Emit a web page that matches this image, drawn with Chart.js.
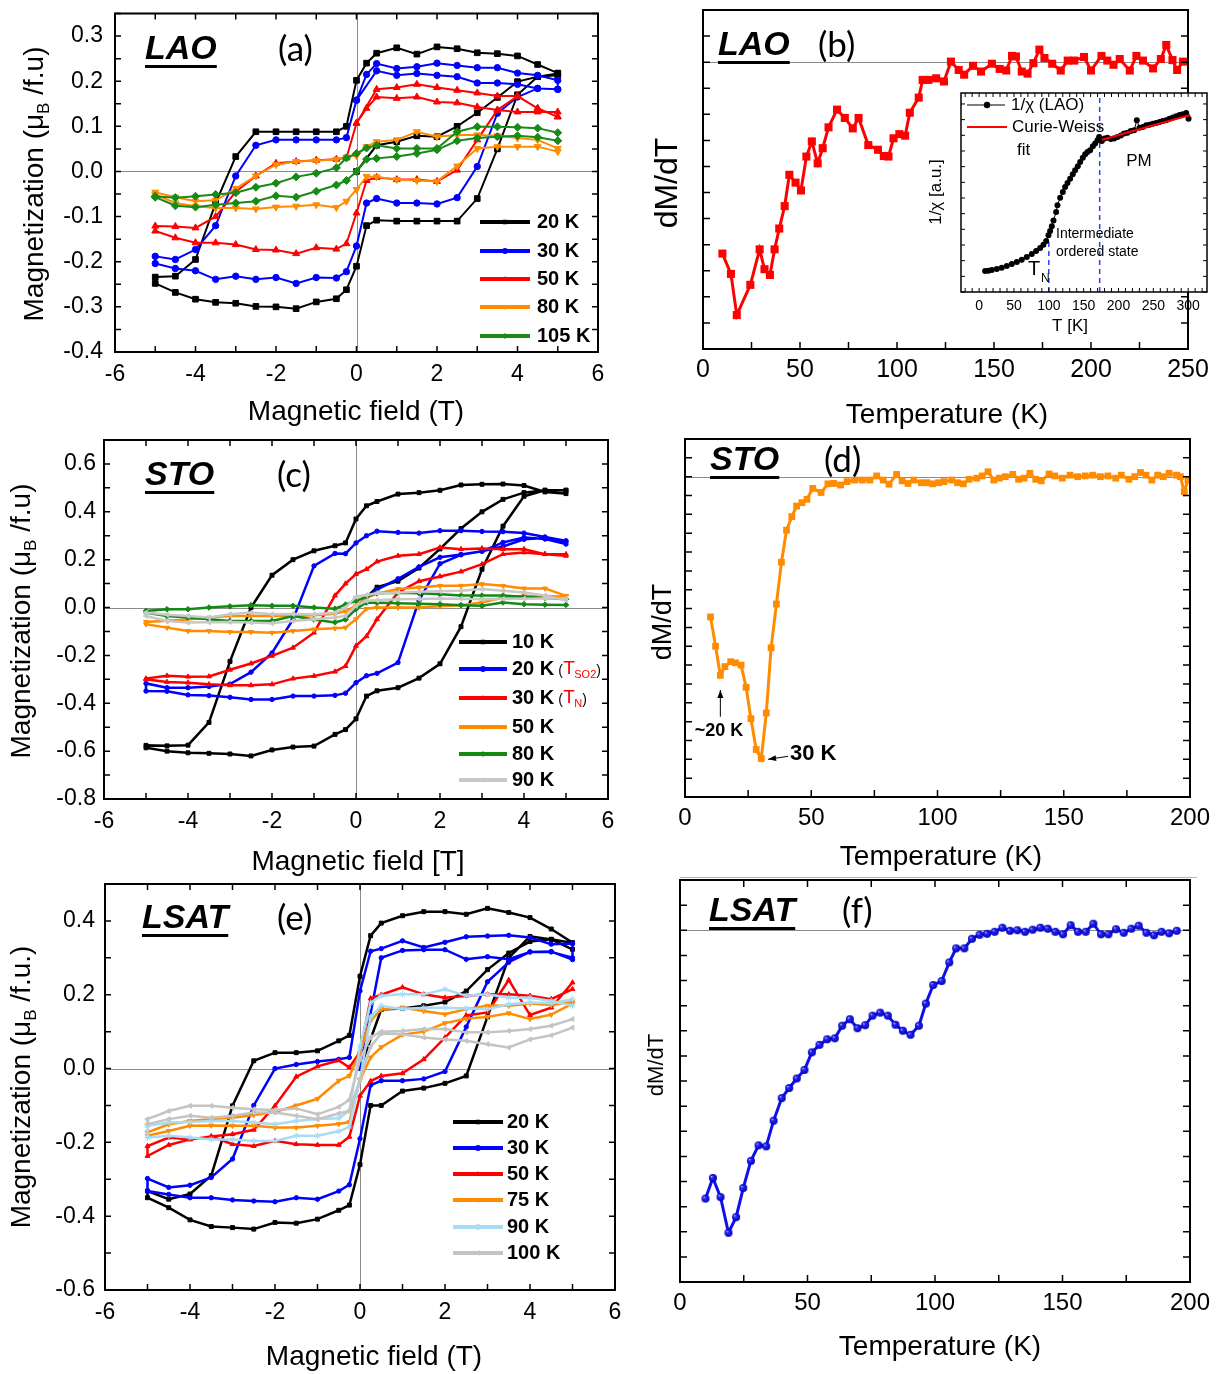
<!DOCTYPE html>
<html>
<head>
<meta charset="utf-8">
<title>Magnetization loops and dM/dT</title>
<script src="https://cdn.jsdelivr.net/npm/chart.js@4.4.1/dist/chart.umd.min.js"></script>
<style>
  body { margin: 0; background: #fff; }
  #page { position: relative; width: 1219px; height: 1374px; overflow: hidden; background: #fff; }
  #page canvas { position: absolute; }
  #rule { position: absolute; left: 680px; top: 877px; width: 517px; border-top: 1px solid #b4b4b4; }
</style>
</head>
<body>
<div id="page">
  <canvas id="lao-loops" width="610" height="430" style="left:0;top:0"></canvas>
  <canvas id="lao-deriv" width="609" height="430" style="left:610px;top:0"></canvas>
  <canvas id="lao-inset" width="319" height="270" style="left:900px;top:80px"></canvas>
  <canvas id="sto-loops" width="620" height="450" style="left:0;top:430px"></canvas>
  <canvas id="sto-deriv" width="599" height="450" style="left:620px;top:430px"></canvas>
  <div id="rule"></div>
  <canvas id="lsat-loops" width="630" height="504" style="left:0;top:870px"></canvas>
  <canvas id="lsat-deriv" width="599" height="504" style="left:620px;top:870px"></canvas>
</div>
<script>
/* =================================
  data
==================================== */
// field sweep (T) shared by all loops: down branch 5 -> -5, up branch is the reverse
const fieldDown = [5, 4.5, 4, 3.5, 3, 2.5, 2, 1.5, 1, 0.5, 0.25, 0, -0.25, -0.5, -1, -1.5, -2, -2.5, -3, -3.5, -4, -4.5, -5];
const fieldVirgin = [0, 0.5, 1, 1.5, 2, 2.5, 3, 3.5, 4, 4.5, 5];

// (a) LAO, magnetization in muB/f.u.
const laoTemps = ['20 K', '30 K', '50 K', '80 K', '105 K'];
const lao20Down = [0.218, 0.237, 0.256, 0.261, 0.263, 0.272, 0.276, 0.26, 0.274, 0.262, 0.24, 0.202, 0.1, 0.088, 0.088, 0.088, 0.088, 0.088, 0.033, -0.07, -0.195, -0.232, -0.234];
const lao20Up = [-0.248, -0.268, -0.283, -0.29, -0.292, -0.299, -0.3, -0.304, -0.289, -0.282, -0.262, -0.21, -0.12, -0.108, -0.11, -0.11, -0.11, -0.11, -0.06, 0.05, 0.17, 0.21, 0.213];
const lao20Virgin = [0, 0.058, 0.066, 0.079, 0.077, 0.1, 0.13, 0.164, 0.199, 0.21, 0.217];
const lao30Down = [0.202, 0.213, 0.218, 0.23, 0.23, 0.235, 0.24, 0.232, 0.228, 0.239, 0.215, 0.158, 0.075, 0.07, 0.07, 0.07, 0.07, 0.058, -0.01, -0.12, -0.173, -0.195, -0.188];
const lao30Up = [-0.204, -0.215, -0.22, -0.239, -0.232, -0.239, -0.235, -0.248, -0.235, -0.236, -0.222, -0.165, -0.07, -0.06, -0.07, -0.07, -0.072, -0.058, 0.011, 0.129, 0.165, 0.184, 0.182];
const lao30Virgin = [0.158, 0.223, 0.213, 0.217, 0.213, 0.21, 0.196, 0.196, 0.193, 0.184, 0.182];
const lao50Down = [0.132, 0.132, 0.132, 0.136, 0.143, 0.152, 0.154, 0.165, 0.162, 0.165, 0.14, 0.107, 0.03, 0.027, 0.025, 0.022, 0.018, -0.01, -0.045, -0.1, -0.125, -0.122, -0.121];
const lao50Up = [-0.132, -0.147, -0.158, -0.158, -0.162, -0.173, -0.174, -0.182, -0.169, -0.172, -0.16, -0.092, -0.02, -0.013, -0.018, -0.018, -0.022, 0.003, 0.07, 0.136, 0.167, 0.14, 0.121];
const lao50Virgin = [0.107, 0.182, 0.186, 0.193, 0.186, 0.18, 0.174, 0.167, 0.167, 0.14, 0.121];
const lao80Down = [0.051, 0.07, 0.074, 0.079, 0.081, 0.081, 0.077, 0.088, 0.07, 0.066, 0.055, 0.035, 0.032, 0.027, 0.024, 0.022, 0.015, -0.01, -0.038, -0.064, -0.066, -0.057, -0.046];
const lao80Up = [-0.051, -0.07, -0.077, -0.081, -0.081, -0.083, -0.079, -0.077, -0.074, -0.08, -0.066, -0.04, -0.011, -0.012, -0.018, -0.02, -0.022, 0.012, 0.051, 0.055, 0.055, 0.055, 0.044];
const lao105Down = [0.086, 0.096, 0.098, 0.099, 0.099, 0.088, 0.051, 0.051, 0.051, 0.058, 0.052, 0.04, 0.03, 0.008, -0.004, -0.012, -0.026, -0.035, -0.047, -0.051, -0.055, -0.058, -0.055];
const lao105Up = [-0.057, -0.076, -0.079, -0.074, -0.07, -0.066, -0.054, -0.057, -0.044, -0.03, -0.02, 0, 0.027, 0.029, 0.033, 0.04, 0.048, 0.068, 0.074, 0.077, 0.079, 0.076, 0.068];

// (b) LAO dM/dT (arb. units) and inset 1/chi
const tempB = [10, 14.4, 17.4, 24.4, 29.2, 31.7, 34.5, 36.9, 39.3, 42.1, 44.5, 47.7, 50.5, 53.3, 56.1, 59.1, 61.7, 64.7, 69.1, 73.1, 77.2, 80.2, 85.2, 90.2, 93.2, 95.6, 98.2, 101.2, 104.2, 106.6, 111.2, 113.2, 116.2, 120.2, 124.2, 127.8, 131.8, 134.6, 139.2, 143.3, 148.9, 152.9, 156.3, 159.3, 161.3, 164.3, 167.3, 170.3, 173.4, 176, 180, 184.4, 188, 191.4, 196.4, 200, 205.4, 208.4, 211.6, 214.8, 220, 223.4, 226.8, 232, 236, 238.8, 242, 244.4, 247.4];
const dmdtB = [-3.67, -4.06, -4.85, -4.27, -3.59, -3.97, -4.08, -3.59, -3.19, -2.76, -2.16, -2.31, -2.46, -1.81, -1.52, -1.94, -1.65, -1.25, -0.91, -1.07, -1.27, -1.07, -1.59, -1.68, -1.80, -1.81, -1.46, -1.38, -1.41, -0.97, -0.68, -0.34, -0.34, -0.31, -0.37, 0.01, -0.15, -0.24, -0.07, -0.18, -0.03, -0.13, -0.16, 0.12, 0.11, -0.18, -0.22, -0.02, 0.24, 0.08, -0.03, -0.16, 0.03, 0.03, 0.1, -0.16, 0.12, 0.03, -0.05, 0.06, -0.16, 0.12, 0.03, -0.12, 0.06, 0.33, 0.04, -0.15, 0.01];
const tempInset = [8.6, 13.4, 18.2, 25.4, 32.5, 39.7, 46.9, 54.1, 61.2, 68.4, 75.6, 81.8, 87.6, 92.3, 96.2, 99.5, 101.9, 104.3, 106.7, 110.5, 112.4, 116.3, 120.1, 123.4, 126.8, 130.6, 134.4, 137.8, 141.6, 145.0, 148.8, 152.2, 155.5, 159.3, 163.2, 166.5, 169.9, 172.2, 176.1, 179.9, 184.2, 189.0, 193.8, 198.6, 203.3, 208.1, 212.9, 217.7, 222.5, 226.3, 230.1, 234.9, 239.7, 244.5, 249.3, 254.1, 258.9, 263.6, 268.4, 273.2, 278.0, 282.8, 287.6, 292.3, 297.1, 300.5];
const invChi = [1.34, 1.36, 1.40, 1.47, 1.55, 1.66, 1.79, 1.91, 2.06, 2.23, 2.43, 2.62, 2.81, 3.02, 3.26, 3.62, 3.89, 4.19, 4.57, 5.11, 5.53, 6.02, 6.38, 6.70, 6.96, 7.23, 7.51, 7.77, 8.02, 8.30, 8.57, 8.79, 8.94, 9.04, 9.30, 9.47, 9.68, 9.89, 9.64, 9.79, 9.85, 9.77, 9.79, 9.89, 9.98, 10.11, 10.17, 10.28, 10.32, 10.96, 10.49, 10.53, 10.64, 10.68, 10.74, 10.79, 10.85, 10.91, 10.96, 11.06, 11.13, 11.21, 11.30, 11.34, 11.43, 11.06];
const fitT = [176, 303];
const fitChi = [9.72, 11.3];
const tnT = [100, 100];
const tnChi = [0, 3.5];
const tpT = [173, 173];
const tpChi = [0, 12.7];

// (c) STO
const stoTemps = ['10 K', '20 K', '30 K', '50 K', '80 K', '90 K'];
const sto10Down = [0.476, 0.483, 0.51, 0.516, 0.515, 0.512, 0.49, 0.48, 0.474, 0.443, 0.425, 0.37, 0.27, 0.258, 0.237, 0.2, 0.135, 0, -0.225, -0.48, -0.575, -0.578, -0.576];
const sto10Up = [-0.586, -0.6, -0.607, -0.609, -0.612, -0.62, -0.595, -0.583, -0.579, -0.53, -0.51, -0.465, -0.37, -0.348, -0.335, -0.295, -0.235, -0.08, 0.16, 0.34, 0.465, 0.49, 0.49];
const sto10Virgin = [0, 0.085, 0.11, 0.165, 0.245, 0.33, 0.4, 0.452, 0.48, 0.49, 0.49];
const sto20Down = [0.279, 0.295, 0.311, 0.317, 0.318, 0.321, 0.321, 0.311, 0.314, 0.319, 0.3, 0.27, 0.225, 0.226, 0.174, -0.05, -0.19, -0.27, -0.32, -0.33, -0.335, -0.335, -0.317];
const sto20Up = [-0.349, -0.35, -0.365, -0.368, -0.375, -0.384, -0.384, -0.37, -0.37, -0.367, -0.358, -0.314, -0.285, -0.275, -0.23, 0.03, 0.183, 0.22, 0.235, 0.272, 0.293, 0.286, 0.265];
const sto20Virgin = [0, 0.075, 0.12, 0.17, 0.21, 0.222, 0.235, 0.255, 0.285, 0.29, 0.275];
const sto30Down = [0.216, 0.223, 0.244, 0.244, 0.247, 0.244, 0.251, 0.223, 0.216, 0.192, 0.16, 0.14, 0.1, 0.05, -0.105, -0.168, -0.202, -0.234, -0.26, -0.288, -0.289, -0.285, -0.297];
const sto30Up = [-0.3, -0.311, -0.314, -0.321, -0.325, -0.325, -0.321, -0.297, -0.286, -0.268, -0.245, -0.16, -0.12, -0.049, 0.063, 0.11, 0.13, 0.15, 0.181, 0.223, 0.23, 0.223, 0.223];
const sto50Down = [0.049, 0.08, 0.08, 0.091, 0.098, 0.091, 0.091, 0.084, 0.077, 0.058, 0.04, 0.007, -0.015, -0.026, -0.032, -0.035, -0.034, -0.035, -0.035, -0.042, -0.05, -0.055, -0.06];
const sto50Up = [-0.07, -0.084, -0.098, -0.098, -0.102, -0.102, -0.105, -0.098, -0.091, -0.087, -0.084, -0.049, -0.005, 0, 0, 0, 0.005, 0.01, 0.021, 0.042, 0.048, 0.048, 0.045];
const sto80Down = [0.035, 0.04, 0.045, 0.05, 0.05, 0.05, 0.055, 0.06, 0.062, 0.06, 0.045, 0.028, 0.012, -0.005, 0, 0.007, 0.007, 0.01, 0.005, 0, -0.007, -0.007, -0.014];
const sto80Up = [-0.021, -0.035, -0.042, -0.049, -0.056, -0.056, -0.056, -0.035, -0.05, -0.062, -0.05, -0.007, 0.021, 0.02, 0.018, 0.016, 0.014, 0.01, 0.007, 0.021, 0.014, 0.012, 0.011];
const sto90Down = [0.03, 0.05, 0.063, 0.07, 0.077, 0.07, 0.068, 0.066, 0.063, 0.06, 0.052, 0.045, 0, -0.022, -0.028, -0.027, -0.028, -0.021, -0.028, -0.042, -0.035, -0.03, -0.021];
const sto90Up = [-0.035, -0.056, -0.063, -0.062, -0.06, -0.063, -0.066, -0.056, -0.049, -0.042, -0.035, 0.007, 0.028, 0.03, 0.035, 0.036, 0.038, 0.037, 0.035, 0.036, 0.037, 0.038, 0.038];

// (d) STO dM/dT
const tempD = [10.1, 12.1, 14, 15.8, 18.1, 20, 22.2, 24.2, 26.1, 28.2, 30.2, 32.2, 34.1, 36.2, 38.2, 40.2, 42.3, 44.2, 46.3, 48.3, 50.6, 53.9, 56.6, 58.9, 61.6, 64.2, 67.2, 70.2, 73.2, 75.9, 78.5, 80.8, 83.8, 86, 88.3, 90.6, 93.6, 95.8, 98.1, 100.4, 102.6, 105.7, 107.9, 110.2, 112.5, 115.5, 117.7, 120, 122.3, 124.5, 126.8, 129.8, 132.1, 134.3, 136.6, 138.9, 141.1, 144.2, 146.4, 149.4, 152.5, 155.5, 158.5, 161.5, 164.5, 167.5, 170.6, 172.8, 175.8, 178.1, 180.4, 182.6, 184.9, 187.2, 189.4, 191.7, 194.7, 196.2, 197.7, 199.2];
const dmdtD = [-3.72, -4.5, -5.27, -5.04, -4.91, -4.94, -5.0, -5.59, -6.42, -7.24, -7.48, -6.27, -4.54, -3.38, -2.27, -1.42, -1.06, -0.78, -0.69, -0.6, -0.31, -0.42, -0.19, -0.18, -0.22, -0.13, -0.09, -0.09, -0.09, 0.02, -0.09, -0.2, 0.06, -0.11, -0.18, -0.09, -0.16, -0.16, -0.19, -0.16, -0.13, -0.09, -0.16, -0.19, -0.07, -0.04, 0.02, 0.13, -0.09, -0.04, 0, 0.06, -0.07, -0.04, 0.09, -0.07, -0.11, 0.07, 0.02, -0.04, 0.04, 0, 0.02, 0.04, 0, 0.02, -0.04, 0.04, -0.07, 0, 0.11, 0.04, -0.09, 0.04, 0, 0.09, 0.04, 0, -0.4, -0.09];
const note20 = [13.5, -6.76];
const arrow20 = [[14, -6.37], [14, -5.66]];
const note30 = [41.6, -7.37];
const arrow30 = [[40.8, -7.42], [32.9, -7.5]];

// (e) LSAT
const lsatTemps = ['20 K', '30 K', '50 K', '75 K', '90 K', '100 K'];
const lsat20Down = [0.341, 0.378, 0.409, 0.423, 0.434, 0.418, 0.425, 0.425, 0.414, 0.394, 0.36, 0.25, 0.09, 0.075, 0.048, 0.043, 0.043, 0.021, -0.101, -0.29, -0.34, -0.354, -0.332];
const lsat20Up = [-0.35, -0.377, -0.41, -0.428, -0.431, -0.435, -0.417, -0.419, -0.408, -0.384, -0.37, -0.26, -0.1, -0.1, -0.061, -0.053, -0.04, -0.02, 0.14, 0.3, 0.358, 0.35, 0.323];
const lsat20Virgin = [0, 0.16, 0.163, 0.17, 0.18, 0.21, 0.268, 0.313, 0.344, 0.35, 0.34];
const lsat30Down = [0.339, 0.337, 0.355, 0.361, 0.359, 0.357, 0.342, 0.328, 0.346, 0.325, 0.318, 0.21, 0.03, 0.025, 0.019, 0.011, 0, -0.1, -0.245, -0.295, -0.316, -0.322, -0.298];
const lsat30Up = [-0.332, -0.341, -0.35, -0.35, -0.356, -0.359, -0.361, -0.35, -0.354, -0.332, -0.315, -0.19, -0.045, -0.033, -0.033, -0.028, -0.008, 0.113, 0.235, 0.288, 0.316, 0.317, 0.295];
const lsat30Virgin = [0, 0.3, 0.32, 0.322, 0.322, 0.296, 0.303, 0.296, 0.316, 0.316, 0.3];
const lsat50Down = [0.215, 0.188, 0.197, 0.201, 0.201, 0.197, 0.192, 0.201, 0.22, 0.2, 0.19, 0.045, 0.003, 0.022, 0.006, -0.022, -0.101, -0.166, -0.178, -0.184, -0.192, -0.207, -0.237];
const lsat50Up = [-0.21, -0.187, -0.192, -0.184, -0.205, -0.21, -0.196, -0.205, -0.207, -0.207, -0.185, -0.074, -0.034, -0.02, -0.013, 0.025, 0.084, 0.144, 0.152, 0.24, 0.145, 0.165, 0.233];
const lsat75Down = [0.18, 0.172, 0.176, 0.17, 0.17, 0.161, 0.147, 0.156, 0.165, 0.16, 0.13, 0.043, -0.02, -0.033, -0.082, -0.1, -0.118, -0.126, -0.133, -0.137, -0.142, -0.151, -0.173];
const lsat75Up = [-0.182, -0.169, -0.155, -0.154, -0.155, -0.155, -0.16, -0.16, -0.155, -0.15, -0.145, -0.03, 0.03, 0.058, 0.092, 0.1, 0.123, 0.135, 0.14, 0.15, 0.134, 0.146, 0.176];
const lsat90Down = [0.17, 0.183, 0.192, 0.192, 0.201, 0.197, 0.215, 0.201, 0.201, 0.197, 0.178, 0.06, -0.115, -0.135, -0.137, -0.142, -0.151, -0.146, -0.142, -0.142, -0.145, -0.146, -0.155];
const lsat90Up = [-0.187, -0.182, -0.187, -0.192, -0.192, -0.196, -0.196, -0.182, -0.182, -0.17, -0.158, -0.03, 0.14, 0.17, 0.161, 0.165, 0.165, 0.163, 0.161, 0.174, 0.179, 0.177, 0.188];
const lsat100Down = [0.134, 0.116, 0.107, 0.102, 0.098, 0.098, 0.107, 0.107, 0.102, 0.1, 0.085, 0.025, -0.085, -0.104, -0.124, -0.108, -0.112, -0.11, -0.106, -0.101, -0.101, -0.115, -0.137];
const lsat100Up = [-0.151, -0.137, -0.128, -0.133, -0.128, -0.119, -0.119, -0.128, -0.137, -0.122, -0.115, -0.03, 0.06, 0.095, 0.093, 0.084, 0.079, 0.075, 0.066, 0.057, 0.079, 0.09, 0.111];

// (f) LSAT dM/dT
const tempF = [10, 12.9, 15.9, 19, 22, 24.8, 27.8, 30.8, 33.8, 36.7, 39.9, 42.8, 45.8, 48.8, 51.7, 54.7, 57.7, 60.7, 63.6, 66.6, 69.6, 72.6, 75.5, 78.5, 81.5, 84.5, 87.4, 90.4, 93.7, 96.4, 99.3, 102.6, 105.6, 108.3, 111.5, 114.5, 117.5, 120.4, 123.4, 126.4, 129.4, 132.3, 135.3, 138.3, 141.3, 144.2, 147.2, 150.2, 153.2, 156.1, 159.1, 162.1, 165.1, 168, 171, 174, 177, 179.9, 182.9, 185.9, 188.8, 191.8, 194.8];
const dmdtF = [-5.34, -4.93, -5.31, -6.02, -5.71, -5.13, -4.59, -4.28, -4.3, -3.79, -3.34, -3.14, -2.95, -2.78, -2.43, -2.28, -2.17, -2.15, -1.9, -1.77, -1.95, -1.89, -1.7, -1.64, -1.7, -1.88, -2.0, -2.08, -1.9, -1.46, -1.09, -1.01, -0.64, -0.36, -0.36, -0.17, -0.09, -0.07, -0.03, 0.05, -0.01, 0, -0.03, 0.01, 0.05, 0.03, -0.03, -0.08, 0.1, -0.03, -0.03, 0.13, -0.08, -0.08, 0.02, -0.05, 0.03, 0.09, -0.05, -0.1, -0.03, -0.06, -0.01];

// tick labels
const tickField = [-6, -4, -2, 0, 2, 4, 6];
const tickMagA = [-0.4, -0.3, -0.2, -0.1, 0, 0.1, 0.2, 0.3];
const tickMagC = [-0.8, -0.6, -0.4, -0.2, 0, 0.2, 0.4, 0.6];
const tickMagE = [-0.6, -0.4, -0.2, 0, 0.2, 0.4];
const tickTempB = [0, 50, 100, 150, 200, 250];
const tickTempDF = [0, 50, 100, 150, 200];
const tickTempInset = [0, 50, 100, 150, 200, 250, 300];
const tickNone = [0];

/* =================================
  helpers
==================================== */
const FF = '"Liberation Sans", Arial, Helvetica, sans-serif';
const font = (size, style) => (style ? style + ' ' : '') + size + 'px ' + FF;
const fieldUp = fieldDown.slice().reverse();

function loop(down, up, virgin) {
    const pts = [];
    if (virgin) fieldVirgin.forEach((b, i) => pts.push({ x: b, y: virgin[i] }));
    fieldDown.forEach((b, i) => pts.push({ x: b, y: down[i] }));
    fieldUp.forEach((b, i) => pts.push({ x: b, y: up[i] }));
    return pts;
}

function pairs(xs, ys) {
    return xs.map((x, i) => ({ x: x, y: ys[i] }));
}

function multiples(min, max, step) {
    const out = [];
    for (let k = Math.ceil(min / step - 1e-6); k <= Math.floor(max / step + 1e-6); k++) out.push(k * step);
    return out;
}

function text(ctx, s, x, y, f, align, color) {
    ctx.font = f;
    ctx.fillStyle = color || '#000';
    ctx.textAlign = align || 'left';
    ctx.textBaseline = 'middle';
    ctx.fillText(s, x, y);
}

// parts: [string, font, color, dy]; centred on x,y, optionally rotated
function rich(ctx, parts, x, y, rot) {
    ctx.save();
    ctx.translate(x, y);
    if (rot) ctx.rotate(rot);
    ctx.textAlign = 'left';
    ctx.textBaseline = 'middle';
    let w = 0;
    parts.forEach(p => { ctx.font = p[1]; w += ctx.measureText(p[0]).width; });
    let cx = -w / 2;
    parts.forEach(p => {
        ctx.font = p[1];
        ctx.fillStyle = p[2] || '#000';
        ctx.fillText(p[0], cx, p[3] || 0);
        cx += ctx.measureText(p[0]).width;
    });
    ctx.restore();
}

function magTitle(ctx, x, y, tail) {
    rich(ctx, [['Magnetization (\u03bc', font(28)], ['B', font(17), '#000', 9], [tail, font(28)]], x, y, -Math.PI / 2);
}

function panelTag(ctx, name, x, y, label, lx) {
    text(ctx, name, x, y, font(34, 'italic bold'));
    const w = ctx.measureText(name).width;
    ctx.fillRect(x, y + 15, w, 3);
    text(ctx, label, lx, y, '35px Lato, "Open Sans", sans-serif');
}

function marker(ctx, style, x, y, r, color, rot) {
    ctx.save();
    ctx.translate(x, y);
    ctx.rotate((rot || 0) * Math.PI / 180);
    ctx.fillStyle = color;
    ctx.strokeStyle = color;
    ctx.lineWidth = 1.5;
    ctx.beginPath();
    if (style === 'rect') ctx.rect(-r * 0.75, -r * 0.75, r * 1.5, r * 1.5);
    else if (style === 'circle') ctx.arc(0, 0, r, 0, Math.PI * 2);
    else if (style === 'triangle') { ctx.moveTo(0, -r); ctx.lineTo(r * 0.9, r * 0.6); ctx.lineTo(-r * 0.9, r * 0.6); ctx.closePath(); }
    else if (style === 'rectRot') { ctx.moveTo(0, -r); ctx.lineTo(r, 0); ctx.lineTo(0, r); ctx.lineTo(-r, 0); ctx.closePath(); }
    else {
        for (let k = 0; k < 4; k++) {
            const a = k * Math.PI / 4;
            ctx.moveTo(-r * Math.cos(a), -r * Math.sin(a));
            ctx.lineTo(r * Math.cos(a), r * Math.sin(a));
        }
    }
    if (style === 'star') ctx.stroke(); else ctx.fill();
    ctx.restore();
}

function loopLegend(ctx, chart, x1, x2, tx, rows) {
    chart.data.datasets.forEach((d, i) => {
        const y = rows[i];
        ctx.strokeStyle = d.borderColor;
        ctx.lineWidth = 4;
        ctx.beginPath();
        ctx.moveTo(x1, y);
        ctx.lineTo(x2, y);
        ctx.stroke();
        marker(ctx, d.pointStyle, (x1 + x2) / 2, y, 3, d.borderColor, d.pointRotation);
        text(ctx, d.label, tx, y, font(20, 'bold'));
    });
}

function arrow(ctx, x0, y0, x1, y1) {
    const a = Math.atan2(y1 - y0, x1 - x0), L = 8, W = 3;
    ctx.strokeStyle = '#000';
    ctx.fillStyle = '#000';
    ctx.lineWidth = 1;
    ctx.beginPath();
    ctx.moveTo(x0, y0);
    ctx.lineTo(x1, y1);
    ctx.stroke();
    ctx.beginPath();
    ctx.moveTo(x1, y1);
    ctx.lineTo(x1 - L * Math.cos(a) + W * Math.sin(a), y1 - L * Math.sin(a) - W * Math.cos(a));
    ctx.lineTo(x1 - L * Math.cos(a) - W * Math.sin(a), y1 - L * Math.sin(a) + W * Math.cos(a));
    ctx.closePath();
    ctx.fill();
}

// shaded ball used as the (f) marker
function sphere(r) {
    const c = document.createElement('canvas');
    c.width = c.height = 2 * r + 2;
    const g = c.getContext('2d');
    const m = r + 1;
    const grad = g.createRadialGradient(m - r * 0.4, m - r * 0.4, 0, m, m, r);
    grad.addColorStop(0, '#c8c8ff');
    grad.addColorStop(0.3, '#2a2aff');
    grad.addColorStop(1, '#0000b4');
    g.fillStyle = grad;
    g.beginPath();
    g.arc(m, m, r, 0, Math.PI * 2);
    g.fill();
    return c;
}

// axis whose box size is fixed so the plot area lands where it should
function axis(min, max, list, o) {
    return {
        type: 'linear', min: min, max: max,
        grid: { display: false, drawTicks: false },
        border: { display: false },
        ticks: {
            display: o.labels !== false, autoSkip: false, maxRotation: 0, minRotation: 0,
            color: '#000', padding: o.pad || 0, font: { family: FF, size: o.size || 12 },
            callback: o.fmt || (v => String(v))
        },
        afterBuildTicks: s => { s.ticks = list.map(v => ({ value: v })); },
        afterFit: s => {
            s.paddingLeft = s.paddingRight = s.paddingTop = s.paddingBottom = 0;
            if (s.isHorizontal()) s.height = o.fit; else s.width = o.fit;
        }
    };
}

function base(box) {
    return {
        responsive: false, animation: false, events: [],
        layout: { padding: { left: 0, top: box.top, right: box.w - box.right, bottom: 0 } },
        plugins: { legend: { display: false }, tooltip: { enabled: false } }
    };
}

// frame, inward ticks, zero lines and page text
function deco(o) {
    return {
        id: 'deco',
        beforeDraw(chart) {
            if (!o.fill) return;
            const a = chart.chartArea;
            chart.ctx.save();
            chart.ctx.fillStyle = '#fff';
            chart.ctx.fillRect(a.left, a.top, a.right - a.left, a.bottom - a.top);
            chart.ctx.restore();
        },
        beforeDatasetsDraw(chart) {
            const { ctx, chartArea: a, scales: { x, y } } = chart;
            ctx.save();
            ctx.strokeStyle = '#8c8c8c';
            ctx.lineWidth = 1;
            ctx.beginPath();
            if (o.zeroX) {
                const px = Math.round(x.getPixelForValue(0)) + 0.5;
                ctx.moveTo(px, a.top); ctx.lineTo(px, a.bottom);
            }
            if (o.zeroY) {
                const py = Math.round(y.getPixelForValue(0)) + 0.5;
                ctx.moveTo(a.left, py); ctx.lineTo(a.right, py);
            }
            ctx.stroke();
            ctx.restore();
        },
        afterDatasetsDraw(chart) {
            const { ctx, chartArea: a, scales: { x, y } } = chart;
            const t = o.ticks;
            ctx.save();
            ctx.strokeStyle = '#000';
            ctx.lineWidth = t.w || 1.5;
            ctx.beginPath();
            multiples(x.min, x.max, t.x).forEach(v => {
                const px = x.getPixelForValue(v);
                ctx.moveTo(px, a.bottom); ctx.lineTo(px, a.bottom - t.len);
                if (t.top) { ctx.moveTo(px, a.top); ctx.lineTo(px, a.top + t.len); }
            });
            multiples(y.min, y.max, t.y).forEach(v => {
                const py = y.getPixelForValue(v);
                ctx.moveTo(a.left, py); ctx.lineTo(a.left + t.len, py);
                ctx.moveTo(a.right, py); ctx.lineTo(a.right - t.len, py);
            });
            ctx.stroke();
            ctx.lineWidth = t.frame || 2;
            ctx.strokeRect(a.left, a.top, a.right - a.left, a.bottom - a.top);
            ctx.restore();
        },
        afterDraw(chart) {
            if (!o.draw) return;
            const ctx = chart.ctx;
            ctx.save();
            ctx.translate(-o.ox, -o.oy);
            o.draw(ctx, chart);
            ctx.restore();
        }
    };
}

function loopSets(names, loops, styles, lw) {
    return names.map((name, i) => ({
        label: name, data: loops[i], showLine: true, tension: 0,
        borderColor: styles[i][0], backgroundColor: styles[i][0], borderWidth: lw,
        pointStyle: styles[i][1], pointRotation: styles[i][2], pointRadius: styles[i][3],
        pointBackgroundColor: styles[i][0], pointBorderColor: styles[i][0], pointBorderWidth: 1,
        order: names.length - i
    }));
}

/* =================================
  (a) LAO loops
==================================== */
const boxA = { w: 610, h: 430, left: 115, top: 13.5, right: 598, bottom: 352 };
new Chart(document.getElementById('lao-loops'), {
    type: 'scatter',
    data: {
        datasets: loopSets(laoTemps, [
            loop(lao20Down, lao20Up, lao20Virgin), loop(lao30Down, lao30Up, lao30Virgin),
            loop(lao50Down, lao50Up, lao50Virgin), loop(lao80Down, lao80Up), loop(lao105Down, lao105Up)
        ], [
            ['#000000', 'rect', 0, 4], ['#0000ff', 'circle', 0, 3.2], ['#ff0000', 'triangle', 0, 4],
            ['#ff8c00', 'triangle', 180, 4], ['#178a17', 'rectRot', 0, 4]
        ], 2)
    },
    options: Object.assign(base(boxA), {
        scales: {
            x: axis(-6, 6, tickField, { size: 23, pad: 9, fit: boxA.h - boxA.bottom }),
            y: axis(-0.4, 0.35, tickMagA, { size: 23, pad: 12, fit: boxA.left, fmt: v => v.toFixed(1) })
        }
    }),
    plugins: [deco({
        ox: 0, oy: 0, zeroX: true, zeroY: true,
        ticks: { x: 1, y: 0.05, len: 6, top: true },
        draw(ctx, chart) {
            magTitle(ctx, 35, 184, ' /f.u)');
            text(ctx, 'Magnetic field (T)', 356, 412, font(28), 'center');
            panelTag(ctx, 'LAO', 145, 50, '(a)', 278);
            loopLegend(ctx, chart, 480, 530, 537, [222, 251, 279, 307, 336]);
        }
    })]
});

/* =================================
  (b) LAO dM/dT
==================================== */
const boxB = { w: 609, h: 430, left: 93, top: 10, right: 578, bottom: 349 };
new Chart(document.getElementById('lao-deriv'), {
    type: 'scatter',
    data: {
        datasets: [{
            data: pairs(tempB, dmdtB), showLine: true, tension: 0,
            borderColor: '#ff0000', borderWidth: 3, pointStyle: 'rect', pointRadius: 5.7,
            pointBackgroundColor: '#ff0000', pointBorderColor: '#ff0000', pointBorderWidth: 0
        }]
    },
    options: Object.assign(base(boxB), {
        scales: {
            x: axis(0, 250, tickTempB, { size: 25, pad: 6, fit: boxB.h - boxB.bottom }),
            y: axis(-5.5, 1, tickNone, { labels: false, fit: boxB.left })
        }
    }),
    plugins: [deco({
        ox: 610, oy: 0, zeroY: true,
        ticks: { x: 25, y: 0.5, len: 7, top: false },
        draw(ctx) {
            rich(ctx, [['dM/dT', font(32)]], 668, 183, -Math.PI / 2);
            text(ctx, 'Temperature (K)', 947, 415, font(28), 'center');
            panelTag(ctx, 'LAO', 718, 46, '(b)', 818);
        }
    })]
});

// inset: 1/chi vs T
const boxI = { w: 319, h: 270, left: 61, top: 13, right: 307, bottom: 212 };
new Chart(document.getElementById('lao-inset'), {
    type: 'scatter',
    data: {
        datasets: [
            { data: pairs(fitT, fitChi), showLine: true, borderColor: '#ff0000', borderWidth: 2.2, pointRadius: 0, order: 0 },
            { data: pairs(tempInset, invChi), showLine: true, borderColor: '#000', borderWidth: 1, pointRadius: 3,
              pointBackgroundColor: '#000', pointBorderColor: '#000', pointBorderWidth: 0, order: 1 },
            { data: pairs(tnT, tnChi), showLine: true, borderColor: '#2a40ff', borderWidth: 1.5, borderDash: [5, 4], pointRadius: 0, order: 2 },
            { data: pairs(tpT, tpChi), showLine: true, borderColor: '#2a40ff', borderWidth: 1.5, borderDash: [5, 4], pointRadius: 0, order: 2 }
        ]
    },
    options: Object.assign(base(boxI), {
        scales: {
            x: axis(-26, 327, tickTempInset, { size: 14, pad: 6, fit: boxI.h - boxI.bottom }),
            y: axis(0, 12.7, tickNone, { labels: false, fit: boxI.left })
        }
    }),
    plugins: [deco({
        ox: 900, oy: 80, fill: true,
        ticks: { x: 10, y: 1, len: 4, top: true, w: 1, frame: 1.5 },
        draw(ctx) {
            rich(ctx, [['1/\u03c7 [a.u.]', font(17)]], 936, 192, -Math.PI / 2);
            text(ctx, 'T [K]', 1070, 326, font(17), 'center');
            ctx.strokeStyle = '#000'; ctx.lineWidth = 1;
            ctx.beginPath(); ctx.moveTo(967, 105); ctx.lineTo(1005, 105); ctx.stroke();
            marker(ctx, 'circle', 987, 105, 3.2, '#000');
            text(ctx, '1/\u03c7 (LAO)', 1011, 105, font(17));
            ctx.strokeStyle = '#ff0000'; ctx.lineWidth = 2;
            ctx.beginPath(); ctx.moveTo(967, 127); ctx.lineTo(1007, 127); ctx.stroke();
            text(ctx, 'Curie-Weiss', 1012, 127, font(17));
            text(ctx, 'fit', 1017, 150, font(17));
            text(ctx, 'PM', 1139, 161, font(17), 'center');
            text(ctx, 'Intermediate', 1056, 234, font(14));
            text(ctx, 'ordered state', 1056, 252, font(14));
            text(ctx, 'T', 1028, 269, font(20));
            text(ctx, 'N', 1041, 279, font(12));
        }
    })]
});

/* =================================
  (c) STO loops
==================================== */
const boxC = { w: 620, h: 450, left: 104, top: 10, right: 608, bottom: 369 };
new Chart(document.getElementById('sto-loops'), {
    type: 'scatter',
    data: {
        datasets: loopSets(stoTemps, [
            loop(sto10Down, sto10Up, sto10Virgin), loop(sto20Down, sto20Up, sto20Virgin), loop(sto30Down, sto30Up),
            loop(sto50Down, sto50Up), loop(sto80Down, sto80Up), loop(sto90Down, sto90Up)
        ], [
            ['#000000', 'rect', 0, 2.8], ['#0000ff', 'circle', 0, 2.2], ['#ff0000', 'triangle', 0, 2.8],
            ['#ff8c00', 'triangle', 180, 2.8], ['#138a13', 'rectRot', 0, 2.8], ['#c8c8c8', 'triangle', -90, 2.8]
        ], 2.5)
    },
    options: Object.assign(base(boxC), {
        scales: {
            x: axis(-6, 6, tickField, { size: 23, pad: 9, fit: boxC.h - boxC.bottom }),
            y: axis(-0.8, 0.7, tickMagC, { size: 23, pad: 8, fit: boxC.left, fmt: v => v.toFixed(1) })
        }
    }),
    plugins: [deco({
        ox: 0, oy: 430, zeroX: true, zeroY: true,
        ticks: { x: 1, y: 0.1, len: 6, top: true },
        draw(ctx, chart) {
            magTitle(ctx, 22, 621, ' /f.u)');
            text(ctx, 'Magnetic field [T]', 358, 862, font(28), 'center');
            panelTag(ctx, 'STO', 145, 476, '(c)', 277);
            const rows = [642, 669, 698, 727, 754, 780];
            loopLegend(ctx, chart, 459, 507, 512, rows);
            [[1, 'SO2'], [2, 'N']].forEach(([i, sub]) => {
                ctx.font = font(20, 'bold');
                let x = 512 + ctx.measureText(stoTemps[i]).width + 4;
                const y = rows[i];
                text(ctx, '(', x, y + 2, font(14)); x += 5;
                text(ctx, 'T', x, y, font(19), 'left', '#ff0000'); x += 11;
                text(ctx, sub, x, y + 6, font(11), 'left', '#ff0000'); x += ctx.measureText(sub).width;
                text(ctx, ')', x, y + 2, font(14));
            });
        }
    })]
});

/* =================================
  (d) STO dM/dT
==================================== */
const boxD = { w: 599, h: 450, left: 65, top: 9, right: 570, bottom: 367 };
new Chart(document.getElementById('sto-deriv'), {
    type: 'scatter',
    data: {
        datasets: [{
            data: pairs(tempD, dmdtD), showLine: true, tension: 0,
            borderColor: '#ff8c00', borderWidth: 3, pointStyle: 'rect', pointRadius: 4.8,
            pointBackgroundColor: '#ff8c00', pointBorderColor: '#ff8c00', pointBorderWidth: 0
        }]
    },
    options: Object.assign(base(boxD), {
        scales: {
            x: axis(0, 200, tickTempDF, { size: 24, pad: 7, fit: boxD.h - boxD.bottom }),
            y: axis(-8.5, 1, tickNone, { labels: false, fit: boxD.left })
        }
    }),
    plugins: [deco({
        ox: 620, oy: 430, zeroY: true,
        ticks: { x: 25, y: 0.5, len: 7, top: false },
        draw(ctx, chart) {
            const { x, y } = chart.scales;
            const P = (t, v) => [x.getPixelForValue(t) + 620, y.getPixelForValue(v) + 430];
            rich(ctx, [['dM/dT', font(27)]], 664, 622, -Math.PI / 2);
            text(ctx, 'Temperature (K)', 941, 857, font(28), 'center');
            panelTag(ctx, 'STO', 710, 461, '(d)', 824);
            const a0 = P(arrow20[0][0], arrow20[0][1]), a1 = P(arrow20[1][0], arrow20[1][1]);
            arrow(ctx, a0[0], a0[1], a1[0], a1[1]);
            const n20 = P(note20[0], note20[1]);
            text(ctx, '~20 K', n20[0], n20[1], font(18, 'bold'), 'center');
            const b0 = P(arrow30[0][0], arrow30[0][1]), b1 = P(arrow30[1][0], arrow30[1][1]);
            arrow(ctx, b0[0], b0[1], b1[0], b1[1]);
            const n30 = P(note30[0], note30[1]);
            text(ctx, '30 K', n30[0], n30[1], font(22, 'bold'));
        }
    })]
});

/* =================================
  (e) LSAT loops
==================================== */
const boxE = { w: 630, h: 504, left: 105, top: 14, right: 615, bottom: 420 };
new Chart(document.getElementById('lsat-loops'), {
    type: 'scatter',
    data: {
        datasets: loopSets(lsatTemps, [
            loop(lsat20Down, lsat20Up, lsat20Virgin), loop(lsat30Down, lsat30Up, lsat30Virgin), loop(lsat50Down, lsat50Up),
            loop(lsat75Down, lsat75Up), loop(lsat90Down, lsat90Up), loop(lsat100Down, lsat100Up)
        ], [
            ['#000000', 'rect', 0, 2.8], ['#0000ff', 'circle', 0, 2.2], ['#ff0000', 'triangle', 0, 2.8],
            ['#ff8c00', 'triangle', 180, 2.8], ['#a8dcf4', 'star', 0, 3.2], ['#c4c4c4', 'triangle', -90, 2.8]
        ], 2.5)
    },
    options: Object.assign(base(boxE), {
        scales: {
            x: axis(-6, 6, tickField, { size: 23, pad: 9, fit: boxE.h - boxE.bottom }),
            y: axis(-0.6, 0.5, tickMagE, { size: 23, pad: 10, fit: boxE.left, fmt: v => v.toFixed(1) })
        }
    }),
    plugins: [deco({
        ox: 0, oy: 870, zeroX: true, zeroY: true,
        ticks: { x: 1, y: 0.1, len: 6, top: true },
        draw(ctx, chart) {
            magTitle(ctx, 22, 1087, ' /f.u.)');
            text(ctx, 'Magnetic field (T)', 374, 1357, font(28), 'center');
            panelTag(ctx, 'LSAT', 142, 919, '(e)', 277);
            loopLegend(ctx, chart, 453, 503, 507, [1122, 1148, 1174, 1200, 1227, 1253]);
        }
    })]
});

/* =================================
  (f) LSAT dM/dT
==================================== */
const boxF = { w: 599, h: 504, left: 60, top: 10, right: 570, bottom: 412 };
new Chart(document.getElementById('lsat-deriv'), {
    type: 'scatter',
    data: {
        datasets: [{
            data: pairs(tempF, dmdtF), showLine: true, tension: 0,
            borderColor: '#1010ee', borderWidth: 3, pointStyle: sphere(4), pointRadius: 4
        }]
    },
    options: Object.assign(base(boxF), {
        scales: {
            x: axis(0, 200, tickTempDF, { size: 24, pad: 7, fit: boxF.h - boxF.bottom }),
            y: axis(-7, 1, tickNone, { labels: false, fit: boxF.left })
        }
    }),
    plugins: [deco({
        ox: 620, oy: 870, zeroY: true,
        ticks: { x: 25, y: 0.5, len: 7, top: true },
        draw(ctx) {
            rich(ctx, [['dM/dT', font(22)]], 657, 1065, -Math.PI / 2);
            text(ctx, 'Temperature (K)', 940, 1347, font(28), 'center');
            panelTag(ctx, 'LSAT', 709, 912, '(f)', 842);
        }
    })]
});
</script>
</body>
</html>
